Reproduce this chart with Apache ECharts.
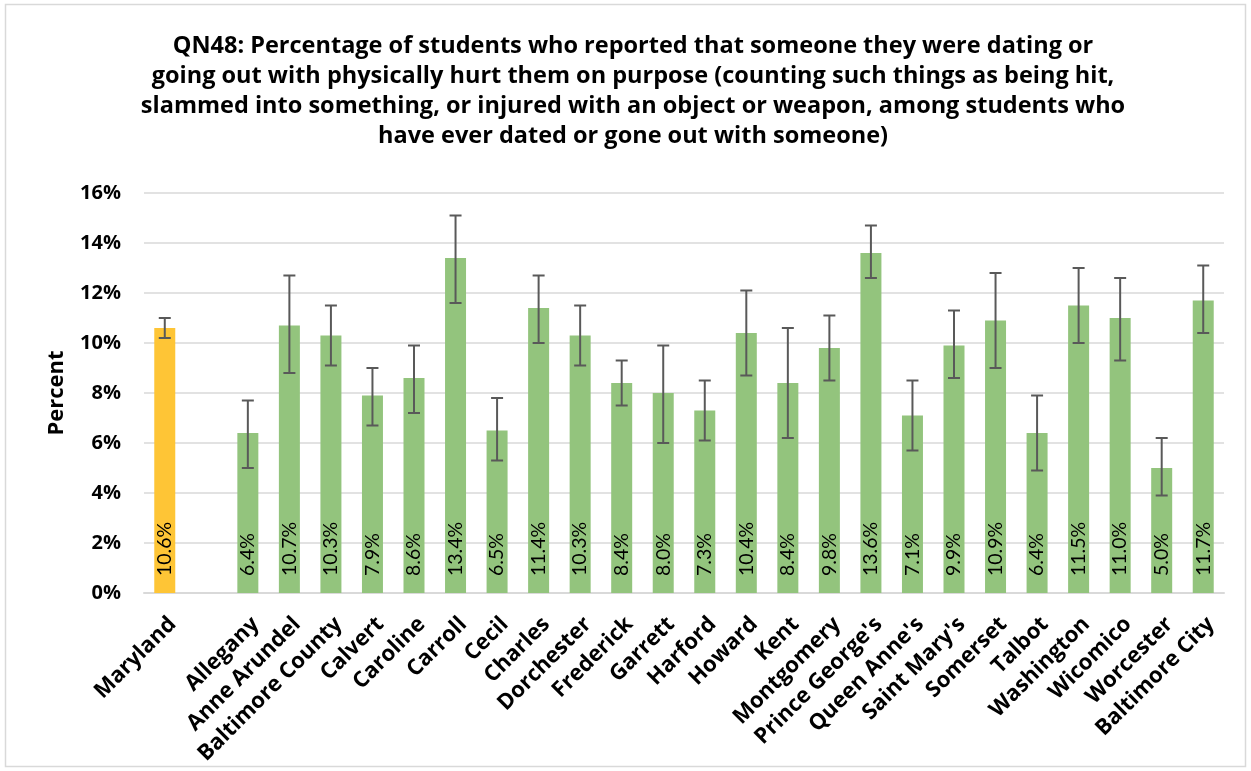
<!DOCTYPE html>
<html>
<head>
<meta charset="utf-8">
<script src="https://cdn.jsdelivr.net/npm/echarts@6/dist/echarts.min.js"></script>
<style>
html,body{margin:0;padding:0;background:#fff;}
#chart{width:1251px;height:771px;}
</style>
</head>
<body>
<div id="chart"></div>
<script>
var titleLines = [
  "QN48: Percentage of students who reported that someone they were dating or",
  "going out with physically hurt them on purpose (counting such things as being hit,",
  "slammed into something, or injured with an object or weapon, among students who",
  "have ever dated or gone out with someone)"
];
var categories = ["Maryland", "", "Allegany", "Anne Arundel", "Baltimore County", "Calvert", "Caroline", "Carroll", "Cecil", "Charles", "Dorchester", "Frederick", "Garrett", "Harford", "Howard", "Kent", "Montgomery", "Prince George's", "Queen Anne's", "Saint Mary's", "Somerset", "Talbot", "Washington", "Wicomico", "Worcester", "Baltimore City"];
var values = [10.6, null, 6.4, 10.7, 10.3, 7.9, 8.6, 13.4, 6.5, 11.4, 10.3, 8.4, 8.0, 7.3, 10.4, 8.4, 9.8, 13.6, 7.1, 9.9, 10.9, 6.4, 11.5, 11.0, 5.0, 11.7];
var lowerCI = [10.2, null, 5.0, 8.8, 9.1, 6.7, 7.2, 11.6, 5.3, 10.0, 9.1, 7.5, 6.0, 6.1, 8.7, 6.2, 8.5, 12.6, 5.7, 8.6, 9.0, 4.9, 10.0, 9.3, 3.9, 10.4];
var upperCI = [11.0, null, 7.7, 12.7, 11.5, 9.0, 9.9, 15.1, 7.8, 12.7, 11.5, 9.3, 9.9, 8.5, 12.1, 10.6, 11.1, 14.7, 8.5, 11.3, 12.8, 7.9, 13.0, 12.6, 6.2, 13.1];
var yTicks = {min: 0, max: 16, interval: 2};

var GOLD = '#fec536', GREEN = '#93c47d';
var errData = categories.map(function (c, i) { return [i, lowerCI[i], upperCI[i]]; }).filter(function (d) { return d[1] != null; });

var chart = echarts.init(document.getElementById('chart'));
chart.setOption({
  animation: false,
  backgroundColor: '#fff',
  textStyle: {fontFamily: 'Open Sans'},
  title: {
    text: titleLines.join('\n'),
    left: 628, top: 26, textAlign: 'center',
    textStyle: {fontFamily: 'Open Sans', fontWeight: 'bold', fontSize: 23.5, lineHeight: 30, color: '#000'}
  },
  graphic: [{
    type: 'rect', shape: {x: 5.5, y: 4.5, width: 1240, height: 762},
    style: {fill: 'none', stroke: '#d9d9d9', lineWidth: 1.5}, silent: true, z: -1
  }],
  grid: {left: 144, right: 27, top: 193, bottom: 178, containLabel: false},
  xAxis: {
    type: 'category', data: categories,
    axisLine: {lineStyle: {color: '#d9d9d9', width: 2}},
    axisTick: {show: false},
    axisLabel: {
      interval: 0, rotate: 45, margin: 20, verticalAlign: 'top', align: 'right',
      fontFamily: 'Open Sans', fontWeight: 'bold', fontSize: 22, color: '#000'
    }
  },
  yAxis: {
    type: 'value', min: yTicks.min, max: yTicks.max, interval: yTicks.interval,
    name: 'Percent', nameLocation: 'middle', nameGap: 76,
    nameTextStyle: {fontFamily: 'Open Sans', fontWeight: 'bold', fontSize: 22, color: '#000'},
    axisLine: {show: false}, axisTick: {show: false},
    splitLine: {lineStyle: {color: '#d9d9d9', width: 1.5}},
    axisLabel: {formatter: '{value}%', margin: 23, fontFamily: 'Open Sans', fontWeight: 'bold', fontSize: 20, color: '#000'}
  },
  series: [{
    type: 'bar', data: values, barWidth: 21,
    itemStyle: {color: function (p) { return p.dataIndex === 0 ? GOLD : GREEN; }},
    label: {
      show: true, position: 'insideBottom', rotate: 90, distance: 17,
      align: 'left', verticalAlign: 'middle',
      formatter: function (p) { return p.value.toFixed(1) + '%'; },
      fontFamily: 'Lato', fontSize: 19.5, color: '#000'
    }
  }, {
    type: 'custom', data: errData, z: 10,
    renderItem: function (params, api) {
      var x = api.value(0);
      var lo = api.coord([x, api.value(1)]);
      var hi = api.coord([x, api.value(2)]);
      var hw = 6;
      var st = {stroke: '#595959', lineWidth: 2, fill: 'none'};
      return {type: 'group', children: [
        {type: 'line', shape: {x1: hi[0], y1: hi[1], x2: lo[0], y2: lo[1]}, style: st},
        {type: 'line', shape: {x1: hi[0] - hw, y1: hi[1], x2: hi[0] + hw, y2: hi[1]}, style: st},
        {type: 'line', shape: {x1: lo[0] - hw, y1: lo[1], x2: lo[0] + hw, y2: lo[1]}, style: st}
      ]};
    }
  }]
});
</script>
</body>
</html>
